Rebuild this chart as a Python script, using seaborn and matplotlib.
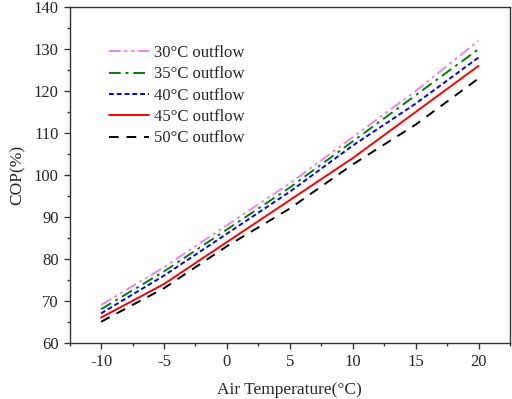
import numpy as np
import pandas as pd
import matplotlib
matplotlib.use("Agg")
import matplotlib.pyplot as plt
from matplotlib.ticker import MultipleLocator
import seaborn as sns

# data
air_temp = [-10, -5, 0, 5, 10, 15, 20]
cop_30 = [69, 78, 88, 98, 109, 120, 132]
cop_35 = [68, 77, 87, 97, 108, 119, 130]
cop_40 = [67, 76, 86, 96, 107, 117, 128]
cop_45 = [66, 74, 84, 94, 104, 115, 126]
cop_50 = [65, 73, 83, 92, 102.5, 112, 123]

series = [
    ("30\u00b0C outflow", cop_30, "#EE82EE", (0, (6, 2, 1.5, 2, 1.5, 2))),
    ("35\u00b0C outflow", cop_35, "#008000", (0, (6, 2.5, 1.5, 2.5))),
    ("40\u00b0C outflow", cop_40, "#0000FF", (0, (2.5, 1.5))),
    ("45\u00b0C outflow", cop_45, "#FF0000", "-"),
    ("50\u00b0C outflow", cop_50, "#000000", (0, (5, 4))),
]

sns.set_style("ticks")
plt.rcParams["font.family"] = ["Liberation Serif", "DejaVu Serif"]
plt.rcParams["axes.unicode_minus"] = False

fig = plt.figure(figsize=(5.12, 3.99), dpi=100)
ax = fig.add_axes([0.136, 0.141, 0.860, 0.841])

for label, vals, color, ls in series:
    df = pd.DataFrame({"x": air_temp, "y": vals})
    sns.lineplot(data=df, x="x", y="y", ax=ax, color=color, linestyle=ls,
                 linewidth=1.4, label=label)

ax.set_xlim(-12.5, 22.5)
ax.set_ylim(60, 140)
ax.xaxis.set_major_locator(MultipleLocator(5))
ax.xaxis.set_minor_locator(MultipleLocator(2.5))
ax.yaxis.set_major_locator(MultipleLocator(10))
ax.yaxis.set_minor_locator(MultipleLocator(5))
ax.tick_params(which="major", direction="out", length=4.5, width=1, labelsize=12,
               top=False, right=False, color="#333")
ax.tick_params(which="minor", direction="out", length=2.5, width=1,
               top=False, right=False, color="#333")
for s in ax.spines.values():
    s.set_linewidth(1)
    s.set_color("#333")

ax.set_xlabel("Air Temperature(\u00b0C)", fontsize=12.5, labelpad=9)
ax.set_ylabel("COP(%)", fontsize=12.5, labelpad=6)

ax.legend(loc="upper left", bbox_to_anchor=(0.075, 0.907), frameon=False,
          fontsize=12, handlelength=2.4, handletextpad=0.3, labelspacing=0.32,
          borderaxespad=0)

fig.savefig("out.png", dpi=100, facecolor="white")
